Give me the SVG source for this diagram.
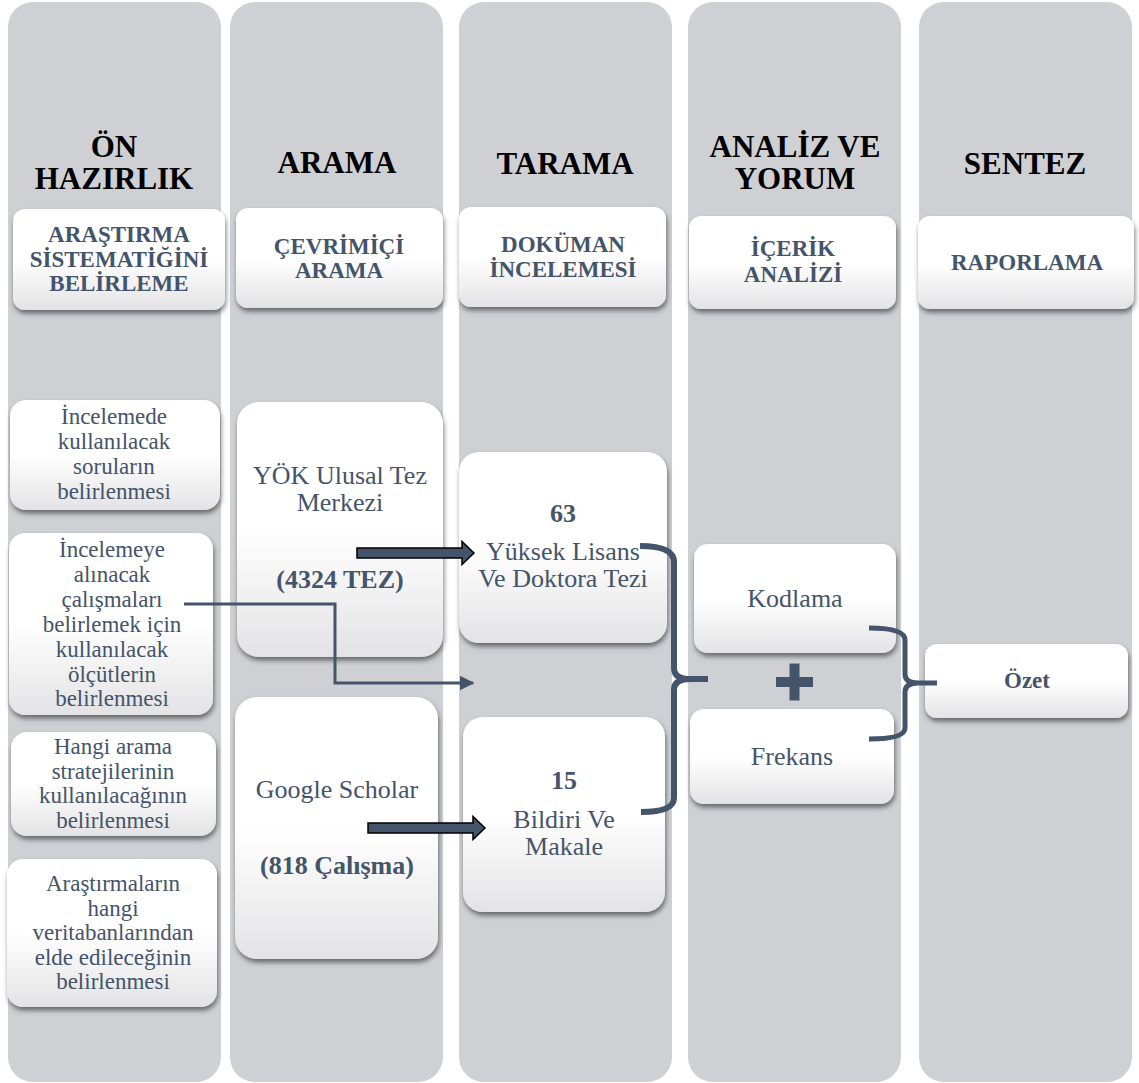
<svg xmlns="http://www.w3.org/2000/svg" width="1139" height="1083" viewBox="0 0 1139 1083">
  <defs>
    <linearGradient id="cardFill" x1="0" y1="0" x2="0" y2="1">
      <stop offset="0" stop-color="#ffffff"/>
      <stop offset="0.5" stop-color="#ffffff"/>
      <stop offset="1" stop-color="#e3e3e5"/>
    </linearGradient>
    <filter id="cardShadow" x="-10%" y="-10%" width="125%" height="130%">
      <feDropShadow dx="1" dy="3.5" stdDeviation="2.5" flood-color="#000000" flood-opacity="0.5"/>
    </filter>
    <marker id="arrowHead" viewBox="0 0 10 10" refX="9" refY="5" markerWidth="5" markerHeight="5" markerUnits="strokeWidth" orient="auto">
      <path d="M0,0 L10,5 L0,10 Z" fill="#44546a"/>
    </marker>
  </defs>
  <style>
    text { font-family: "Liberation Serif", "Times New Roman", Tinos, "Noto Serif", "DejaVu Serif", FreeSerif, "Nimbus Roman", Times, serif; }
    .lane { fill: #cfd0d4; }
    .card { fill: url(#cardFill); filter: url(#cardShadow); }
    .phase { font-weight: bold; font-size: 31px; fill: #000000; text-anchor: middle; }
    .step { font-weight: bold; font-size: 23px; fill: #44546a; text-anchor: middle; }
    .item { font-size: 23px; fill: #44546a; text-anchor: middle; }
    .big { font-size: 26px; fill: #44546a; text-anchor: middle; }
    .bold { font-weight: bold; }
    .brace { fill: none; stroke: #44546a; stroke-linecap: butt; stroke-linejoin: round; }
    .block { fill: #44546a; stroke: #000000; stroke-width: 1.5; stroke-linejoin: miter; }
    .elbow { fill: none; stroke: #44546a; stroke-width: 3; }
  </style>

  <rect width="1139" height="1083" fill="#ffffff"/>

  <!-- phase lanes -->
  <g id="lanes">
    <rect class="lane" x="8" y="2" width="213" height="1080" rx="25"/>
    <rect class="lane" x="230" y="2" width="213" height="1080" rx="25"/>
    <rect class="lane" x="459" y="2" width="213" height="1080" rx="25"/>
    <rect class="lane" x="688" y="2" width="213" height="1080" rx="25"/>
    <rect class="lane" x="919" y="2" width="213" height="1080" rx="25"/>
  </g>

  <!-- phase titles -->
  <g id="phase-on-hazirlik">
    <text class="phase" x="114" y="157">ÖN</text>
    <text class="phase" x="114" y="189">HAZIRLIK</text>
  </g>
  <g id="phase-arama">
    <text class="phase" x="337" y="173">ARAMA</text>
  </g>
  <g id="phase-tarama">
    <text class="phase" x="565" y="174">TARAMA</text>
  </g>
  <g id="phase-analiz">
    <text class="phase" x="795" y="157">ANALİZ VE</text>
    <text class="phase" x="795" y="189">YORUM</text>
  </g>
  <g id="phase-sentez">
    <text class="phase" x="1025" y="174">SENTEZ</text>
  </g>

  <!-- step cards -->
  <g id="step-sistematik">
    <rect class="card" x="13" y="209" width="212" height="101" rx="12"/>
    <text class="step" x="119" y="242">ARAŞTIRMA</text>
    <text class="step" x="119" y="267">SİSTEMATİĞİNİ</text>
    <text class="step" x="119" y="291">BELİRLEME</text>
  </g>
  <g id="step-cevrimici">
    <rect class="card" x="236" y="208" width="207" height="100" rx="12"/>
    <text class="step" x="339" y="254">ÇEVRİMİÇİ</text>
    <text class="step" x="339" y="278">ARAMA</text>
  </g>
  <g id="step-dokuman">
    <rect class="card" x="459" y="207" width="207" height="100" rx="12"/>
    <text class="step" x="563" y="252">DOKÜMAN</text>
    <text class="step" x="563" y="277">İNCELEMESİ</text>
  </g>
  <g id="step-icerik">
    <rect class="card" x="689" y="216" width="207" height="93" rx="12"/>
    <text class="step" x="793" y="256">İÇERİK</text>
    <text class="step" x="793" y="282">ANALİZİ</text>
  </g>
  <g id="step-raporlama">
    <rect class="card" x="918" y="216" width="216" height="93" rx="12"/>
    <text class="step" x="1027" y="270">RAPORLAMA</text>
  </g>

  <!-- preparation items -->
  <g id="prep-sorular">
    <rect class="card" x="10" y="400" width="210" height="110" rx="16"/>
    <text class="item" x="114" y="424">İncelemede</text>
    <text class="item" x="114" y="449">kullanılacak</text>
    <text class="item" x="114" y="474">soruların</text>
    <text class="item" x="114" y="499">belirlenmesi</text>
  </g>
  <g id="prep-olcutler">
    <rect class="card" x="9" y="533" width="204" height="182" rx="16"/>
    <text class="item" x="112" y="557">İncelemeye</text>
    <text class="item" x="112" y="582">alınacak</text>
    <text class="item" x="112" y="607">çalışmaları</text>
    <text class="item" x="112" y="632">belirlemek için</text>
    <text class="item" x="112" y="657">kullanılacak</text>
    <text class="item" x="112" y="682">ölçütlerin</text>
    <text class="item" x="112" y="706">belirlenmesi</text>
  </g>
  <g id="prep-stratejiler">
    <rect class="card" x="11" y="732" width="205" height="104" rx="16"/>
    <text class="item" x="113" y="754">Hangi arama</text>
    <text class="item" x="113" y="779">stratejilerinin</text>
    <text class="item" x="113" y="803">kullanılacağının</text>
    <text class="item" x="113" y="828">belirlenmesi</text>
  </g>
  <g id="prep-veritabanlari">
    <rect class="card" x="7" y="859" width="210" height="148" rx="16"/>
    <text class="item" x="113" y="891">Araştırmaların</text>
    <text class="item" x="113" y="916">hangi</text>
    <text class="item" x="113" y="940">veritabanlarından</text>
    <text class="item" x="113" y="965">elde edileceğinin</text>
    <text class="item" x="113" y="989">belirlenmesi</text>
  </g>

  <!-- search sources -->
  <g id="source-yok">
    <rect class="card" x="237" y="402" width="206" height="255" rx="22"/>
    <text class="big" x="340" y="484">YÖK Ulusal Tez</text>
    <text class="big" x="340" y="511">Merkezi</text>
    <text class="big bold" x="340" y="588">(4324 TEZ)</text>
  </g>
  <g id="source-scholar">
    <rect class="card" x="235" y="697" width="203" height="262" rx="22"/>
    <text class="big" x="337" y="798" font-size="26.5">Google Scholar</text>
    <text class="big bold" x="337" y="874" font-size="26.5">(818 Çalışma)</text>
  </g>

  <!-- screened documents -->
  <g id="doc-tez">
    <rect class="card" x="459" y="452" width="208" height="191" rx="20"/>
    <text class="big bold" x="563" y="522">63</text>
    <text class="big" x="563" y="560" font-size="26.5">Yüksek Lisans</text>
    <text class="big" x="563" y="587" font-size="26.5">Ve Doktora Tezi</text>
  </g>
  <g id="doc-makale">
    <rect class="card" x="463" y="717" width="202" height="195" rx="20"/>
    <text class="big bold" x="564" y="789">15</text>
    <text class="big" x="564" y="828" font-size="26.5">Bildiri Ve</text>
    <text class="big" x="564" y="855" font-size="26.5">Makale</text>
  </g>

  <!-- analysis -->
  <g id="analysis-kodlama">
    <rect class="card" x="694" y="544" width="202" height="109" rx="14"/>
    <text class="big" x="795" y="607">Kodlama</text>
  </g>
  <g id="analysis-frekans">
    <rect class="card" x="690" y="709" width="204" height="95" rx="14"/>
    <text class="big" x="792" y="765">Frekans</text>
  </g>

  <!-- synthesis -->
  <g id="synthesis-ozet">
    <rect class="card" x="925" y="644" width="203" height="74" rx="12"/>
    <text class="step" x="1027" y="688">Özet</text>
  </g>

  <!-- connectors -->
  <g id="connectors">
    <!-- elbow from the selection criteria into the screening lane -->
    <polyline class="elbow" points="184,604 335,604 335,683 473,683" marker-end="url(#arrowHead)"/>
    <!-- block arrows from sources to documents -->
    <polygon class="block" points="357,548 462,548 462,541.5 474,553 462,564.5 462,558 357,558"/>
    <polygon class="block" points="368,823 473,823 473,816.5 485,828 473,839.5 473,833 368,833"/>
    <!-- brace gathering both document groups -->
    <path class="brace" stroke-width="6" d="M640,546 Q674,546 674,562 L674,668 Q674,679 690,679 L708,679 M690,679 Q674,679 674,690 L674,798 Q674,812 641,812"/>
    <!-- brace gathering coding and frequency -->
    <path class="brace" stroke-width="5" d="M869,628 Q905,628 905,640 L905,674 Q905,683 918,683 L937,683 M918,683 Q905,683 905,692 L905,728 Q905,739 869,739"/>
  </g>

  <!-- plus between coding and frequency -->
  <g id="plus">
    <rect x="776" y="677" width="37" height="10" fill="#44546a"/>
    <rect x="789.5" y="663.5" width="10" height="37" fill="#44546a"/>
  </g>
</svg>
